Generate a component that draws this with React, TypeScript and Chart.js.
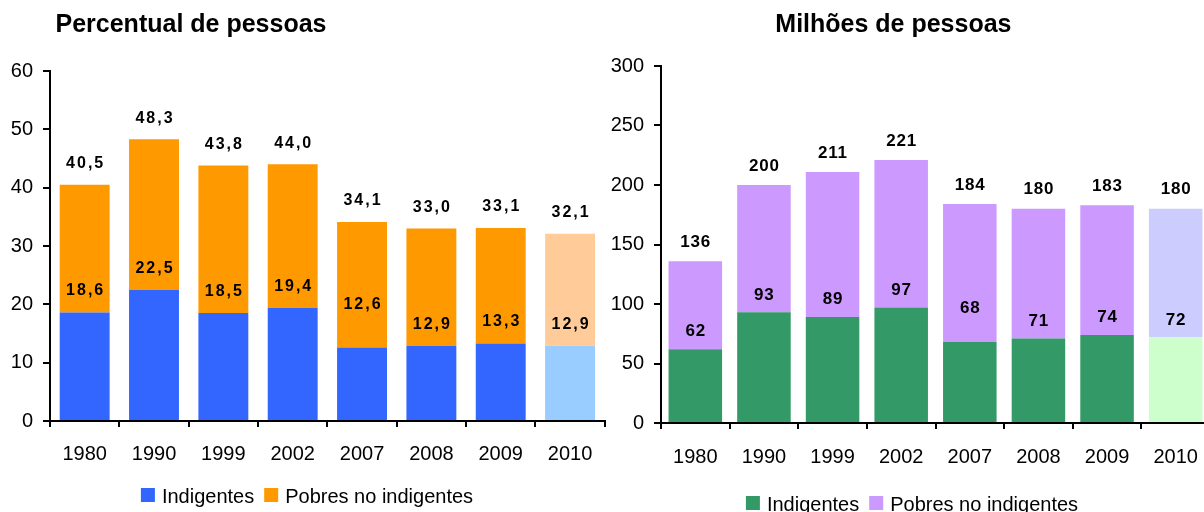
import React, { useEffect, useRef } from 'react';
import { Chart, registerables } from 'chart.js';

Chart.register(...registerables);

// ---- Data ----
const years = ['1980', '1990', '1999', '2002', '2007', '2008', '2009', '2010'];

// Percentual de pessoas
const pctIndigentes = [18.6, 22.5, 18.5, 19.4, 12.6, 12.9, 13.3, 12.9];
const pctTotal = [40.5, 48.3, 43.8, 44.0, 34.1, 33.0, 33.1, 32.1];
const pctTicks = [0, 10, 20, 30, 40, 50, 60];

// Milhões de pessoas
const milIndigentes = [62, 93, 89, 97, 68, 71, 74, 72];
const milTotal = [136, 200, 211, 221, 184, 180, 183, 180];
const milTicks = [0, 50, 100, 150, 200, 250, 300];

const seriesNames = ['Indigentes', 'Pobres no indigentes'];

const FONT = '"Liberation Sans", Arial, Helvetica, sans-serif';

type PanelCfg = {
  key: string;
  title: string;
  indig: number[];
  total: number[];
  ticks: number[];
  decimals: number;
  colIndig: string;
  colIndigLight: string;
  colPobres: string;
  colPobresLight: string;
  left: number;
  width: number;
  padTop: number;
  padRight: number;
  yWidth: number;
  xHeight: number;
  xPad: number;
  barPct: number;
  titleX: number;
  titleY: number;
  labelSize: number;
  labelSpacing: number;
  totalLift: number;
  innerLift: number;
  innerLiftSpecial: Record<number, number>;
  legendCx: number;
  legendBoxTop: number;
  legendBaseline: number;
};

const fmt = (v: number, d: number) => v.toFixed(d).replace('.', ',');

const leftCfg: PanelCfg = {
  key: 'pct',
  title: 'Percentual de pessoas',
  indig: pctIndigentes,
  total: pctTotal,
  ticks: pctTicks,
  decimals: 1,
  colIndig: '#3366FF',
  colIndigLight: '#99CCFF',
  colPobres: '#FF9900',
  colPobresLight: '#FFCC99',
  left: 0,
  width: 608,
  padTop: 71,
  padRight: 3,
  yWidth: 50,
  xHeight: 91,
  xPad: 15.5,
  barPct: 0.72,
  titleX: 55.5,
  titleY: 32.3,
  labelSize: 16,
  labelSpacing: 2,
  totalLift: 21,
  innerLift: 21.5,
  innerLiftSpecial: { 4: 43 },
  legendCx: 307,
  legendBoxTop: 488,
  legendBaseline: 502.7,
};

const rightCfg: PanelCfg = {
  key: 'mil',
  title: 'Milhões de pessoas',
  indig: milIndigentes,
  total: milTotal,
  ticks: milTicks,
  decimals: 0,
  colIndig: '#339966',
  colIndigLight: '#CCFFCC',
  colPobres: '#CC99FF',
  colPobresLight: '#CCCCFF',
  left: 600,
  width: 616,
  padTop: 66,
  padRight: 6,
  yWidth: 61,
  xHeight: 89,
  xPad: 16.5,
  barPct: 0.78,
  titleX: 175.3,
  titleY: 32.3,
  labelSize: 17,
  labelSpacing: 0.8,
  totalLift: 19,
  innerLift: 17.5,
  innerLiftSpecial: { 4: 33.5 },
  legendCx: 312,
  legendBoxTop: 496,
  legendBaseline: 510.5,
};

function Panel({ cfg }: { cfg: PanelCfg }) {
  const ref = useRef<HTMLCanvasElement | null>(null);

  useEffect(() => {
    const canvas = ref.current;
    if (!canvas) return;
    const n = years.length;
    const pobres = cfg.total.map((t, i) => +(t - cfg.indig[i]).toFixed(2));
    const colorsIndig = years.map((_, i) => (i === n - 1 ? cfg.colIndigLight : cfg.colIndig));
    const colorsPobres = years.map((_, i) => (i === n - 1 ? cfg.colPobresLight : cfg.colPobres));

    const overlay = {
      id: 'overlay_' + cfg.key,
      afterDatasetsDraw(chart: any) {
        const { ctx } = chart;
        const xs = chart.scales.x;
        const ys = chart.scales.y;
        ctx.save();
        ctx.font = `bold ${cfg.labelSize}px ${FONT}`;
        ctx.fillStyle = '#000';
        ctx.textBaseline = 'middle';
        ctx.textAlign = 'left';
        (ctx as any).letterSpacing = cfg.labelSpacing + 'px';
        const draw = (text: string, cx: number, cy: number) => {
          const w = ctx.measureText(text).width - cfg.labelSpacing;
          ctx.fillText(text, cx - w / 2, cy);
        };
        years.forEach((_, i) => {
          const cx = xs.getPixelForValue(i);
          draw(fmt(cfg.total[i], cfg.decimals), cx, ys.getPixelForValue(cfg.total[i]) - cfg.totalLift);
          const lift = cfg.innerLiftSpecial[i] ?? cfg.innerLift;
          draw(fmt(cfg.indig[i], cfg.decimals), cx, ys.getPixelForValue(cfg.indig[i]) - lift);
        });
        ctx.restore();
      },
      afterDraw(chart: any) {
        const { ctx } = chart;
        ctx.save();
        // Title
        ctx.font = `bold 25px ${FONT}`;
        ctx.fillStyle = '#000';
        ctx.textAlign = 'left';
        ctx.textBaseline = 'alphabetic';
        ctx.fillText(cfg.title, cfg.titleX, cfg.titleY);
        // Legend
        ctx.font = `20px ${FONT}`;
        const box = 14;
        const gapBT = 7;
        const gapItems = 10;
        const w1 = ctx.measureText(seriesNames[0]).width;
        const w2 = ctx.measureText(seriesNames[1]).width;
        const total = box + gapBT + w1 + gapItems + box + gapBT + w2;
        let x = cfg.legendCx - total / 2;
        ctx.fillStyle = cfg.colIndig;
        ctx.fillRect(x, cfg.legendBoxTop, box, box);
        x += box + gapBT;
        ctx.fillStyle = '#000';
        ctx.fillText(seriesNames[0], x, cfg.legendBaseline);
        x += w1 + gapItems;
        ctx.fillStyle = cfg.colPobres;
        ctx.fillRect(x, cfg.legendBoxTop, box, box);
        x += box + gapBT;
        ctx.fillStyle = '#000';
        ctx.fillText(seriesNames[1], x, cfg.legendBaseline);
        ctx.restore();
      },
    };

    const chart = new Chart(canvas, {
      type: 'bar',
      data: {
        labels: years,
        datasets: [
          {
            label: seriesNames[0],
            data: cfg.indig,
            backgroundColor: colorsIndig,
            borderWidth: 0,
            barPercentage: cfg.barPct,
            categoryPercentage: 1,
          },
          {
            label: seriesNames[1],
            data: pobres,
            backgroundColor: colorsPobres,
            borderWidth: 0,
            barPercentage: cfg.barPct,
            categoryPercentage: 1,
          },
        ],
      },
      options: {
        responsive: false,
        maintainAspectRatio: false,
        animation: false,
        devicePixelRatio: 1,
        events: [],
        layout: { padding: { top: cfg.padTop, right: cfg.padRight, left: 0, bottom: 0 } },
        plugins: {
          legend: { display: false },
          title: { display: false },
          tooltip: { enabled: false },
        },
        scales: {
          x: {
            stacked: true,
            border: { display: true, color: '#000', width: 2 },
            grid: {
              display: true,
              drawOnChartArea: false,
              drawTicks: true,
              tickLength: 6,
              color: '#000',
              lineWidth: 2,
            },
            ticks: {
              color: '#000',
              font: { family: FONT, size: 20 },
              padding: cfg.xPad,
              maxRotation: 0,
              autoSkip: false,
            },
            afterFit: (s: any) => {
              s.height = cfg.xHeight;
            },
          },
          y: {
            stacked: true,
            min: cfg.ticks[0],
            max: cfg.ticks[cfg.ticks.length - 1],
            border: { display: true, color: '#000', width: 2 },
            grid: {
              display: true,
              drawOnChartArea: false,
              drawTicks: true,
              tickLength: 7,
              color: '#000',
              lineWidth: 2,
            },
            ticks: {
              color: '#000',
              font: { family: FONT, size: 20 },
              padding: 10,
            },
            afterBuildTicks: (s: any) => {
              s.ticks = cfg.ticks.map((v) => ({ value: v }));
            },
            afterFit: (s: any) => {
              s.width = cfg.yWidth;
            },
          },
        },
      },
      plugins: [overlay],
    } as any);

    return () => chart.destroy();
  }, [cfg]);

  return (
    <canvas
      ref={ref}
      width={cfg.width}
      height={512}
      style={{ position: 'absolute', left: cfg.left, top: 0, width: cfg.width, height: 512, display: 'block' }}
    />
  );
}

export default function App() {
  return (
    <div
      style={{
        position: 'fixed',
        left: 0,
        top: 0,
        width: 1204,
        height: 512,
        overflow: 'hidden',
        background: '#fff',
      }}
    >
      <Panel cfg={leftCfg} />
      <Panel cfg={rightCfg} />
    </div>
  );
}
